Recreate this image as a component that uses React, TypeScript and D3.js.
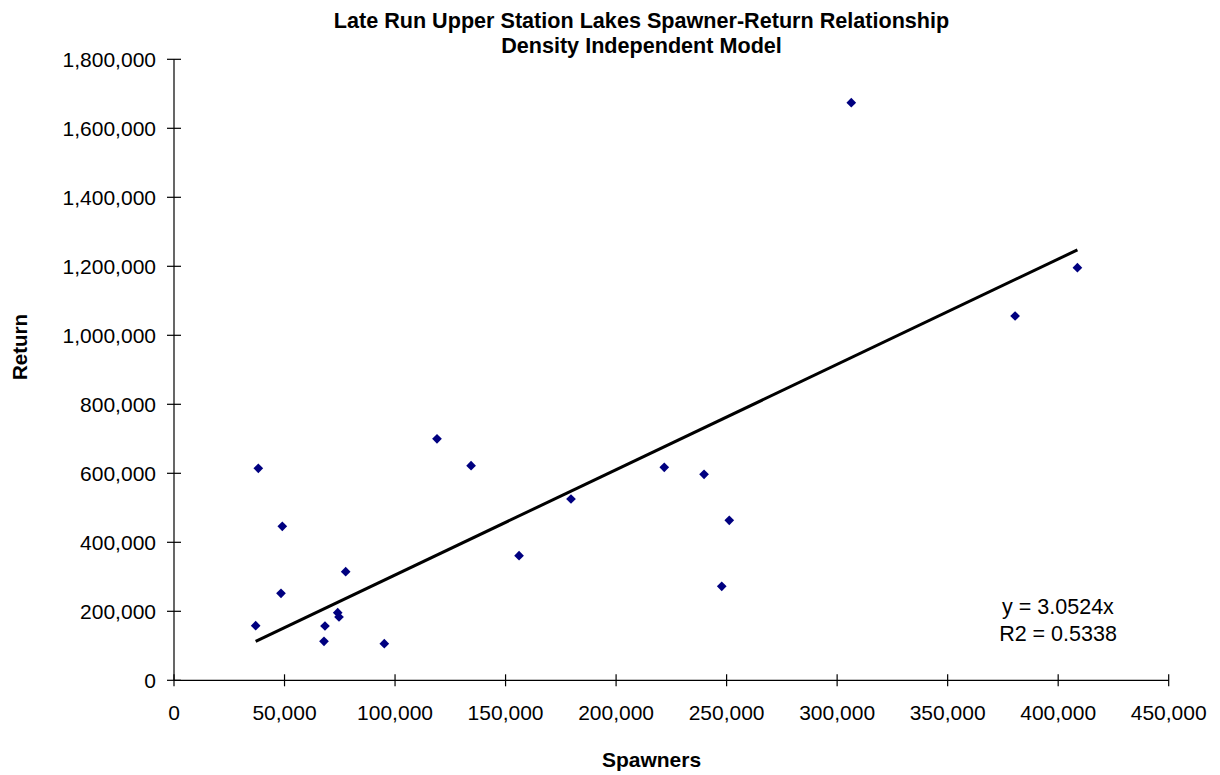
import React from "react";
import * as d3 from "d3";

const spawners = [36950, 38140, 49000, 48400, 77670, 74060, 74650, 68300, 67860, 95140, 118980, 134400, 156100, 179600, 221800, 239800, 247800, 251200, 306400, 380500, 408700];
const returns = [158300, 614500, 446400, 252200, 314800, 196000, 183500, 157400, 113000, 106100, 700000, 622000, 361200, 525500, 617400, 597100, 272500, 463800, 1674200, 1056000, 1196000];
const slope = 3.0524;
const xTicks = [0, 50000, 100000, 150000, 200000, 250000, 300000, 350000, 400000, 450000];
const yTicks = [0, 200000, 400000, 600000, 800000, 1000000, 1200000, 1400000, 1600000, 1800000];
const titleLines = ["Late Run Upper Station Lakes Spawner-Return Relationship", "Density Independent Model"];
const eqLines = ["y = 3.0524x", "R2 = 0.5338"];

const W = 1220, H = 775;
const FONT = "'Liberation Sans', Arial, sans-serif";

export default function App() {
  const x = d3.scaleLinear().domain([0, 450000]).range([174, 1168.7]);
  const y = d3.scaleLinear().domain([0, 1800000]).range([680.3, 59.3]);
  const fmt = d3.format(",");
  const xMin = d3.min(spawners)!;
  const xMax = d3.max(spawners)!;
  const line = d3.line<number>().x((d) => x(d)).y((d) => y(d * slope));
  const diamond = d3.symbol().type(d3.symbolDiamond2).size(60)();
  return (
    <svg width={W} height={H} style={{ position: "absolute", left: 0, top: 0, background: "#fff" }} fontFamily={FONT}>
      <rect width={W} height={H} fill="#fff" />
      {titleLines.map((t, i) => (
        <text key={t} x={641.5} y={28 + i * 25} textAnchor="middle" fontSize={21.6} fontWeight="bold">{t}</text>
      ))}
      {/* axes */}
      <line x1={x(0)} x2={x(0)} y1={y(1800000)} y2={y(0)} stroke="#000" strokeWidth={1.2} />
      <line x1={x(0)} x2={x(450000)} y1={y(0)} y2={y(0)} stroke="#000" strokeWidth={1.2} />
      {yTicks.map((t) => (
        <g key={"y" + t}>
          <line x1={x(0) - 7} x2={x(0) + 7} y1={y(t)} y2={y(t)} stroke="#000" strokeWidth={1.2} />
          <text x={156} y={y(t) + 7.5} textAnchor="end" fontSize={21}>{fmt(t)}</text>
        </g>
      ))}
      {xTicks.map((t) => (
        <g key={"x" + t}>
          <line x1={x(t)} x2={x(t)} y1={y(0) - 6} y2={y(0) + 6} stroke="#000" strokeWidth={1.2} />
          <text x={x(t)} y={720} textAnchor="middle" fontSize={21}>{fmt(t)}</text>
        </g>
      ))}
      <text x={651.5} y={767} textAnchor="middle" fontSize={21} fontWeight="bold">Spawners</text>
      <text transform={`translate(27,347) rotate(-90)`} textAnchor="middle" fontSize={20.5} fontWeight="bold">Return</text>
      <path d={line([xMin, xMax])!} fill="none" stroke="#000" strokeWidth={3} />
      {spawners.map((s, i) => (
        <path key={i} d={diamond!} transform={`translate(${x(s)},${y(returns[i])})`} fill="#000080" />
      ))}
      {eqLines.map((t, i) => (
        <text key={t} x={1058} y={614 + i * 27} textAnchor="middle" fontSize={21.5}>{t}</text>
      ))}
    </svg>
  );
}
